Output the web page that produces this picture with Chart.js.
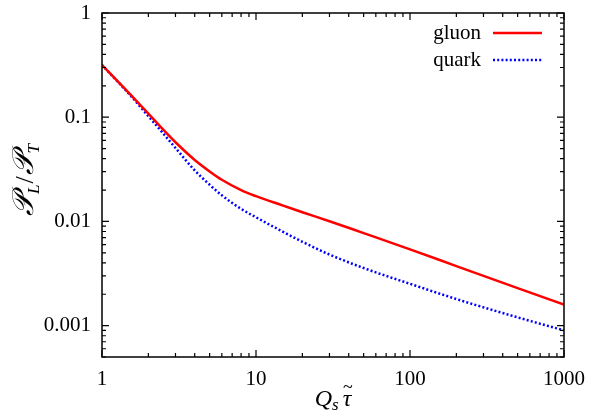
<!DOCTYPE html>
<html><head><meta charset="utf-8">
<script src="https://cdn.jsdelivr.net/npm/chart.js@4"></script>
<style>html,body{margin:0;padding:0;background:#fff}#wrap{width:592px;height:419px;position:relative}</style>
</head><body><div id="wrap"><canvas id="c"></canvas></div>
<script>
const xValues = [1, 1.5, 2, 2.5, 3, 4, 5, 6, 8, 10, 15, 20, 30, 50, 100, 200, 500, 1000];
const gluon   = [0.317, 0.170, 0.1084, 0.0759, 0.0575, 0.0389, 0.0302, 0.0251, 0.01995, 0.01746, 0.01419, 0.01225, 0.01005, 0.00773, 0.0054, 0.00373, 0.00229, 0.00159];
const quark   = [0.317, 0.167, 0.1023, 0.0697, 0.0507, 0.0309, 0.0225, 0.0178, 0.0132, 0.01096, 0.00794, 0.00638, 0.00481, 0.00357, 0.00252, 0.0018, 0.0012, 0.0009];
const xTicks = [1, 10, 100, 1000];
const yTicks = [0.001, 0.01, 0.1, 1];
const seriesNames = ['gluon', 'quark'];

const SERIF = '"Liberation Serif","DejaVu Serif",serif';

function drawRich(ctx, parts, cx, cy, rot) {
  ctx.save();
  ctx.translate(cx, cy);
  if (rot) ctx.rotate(rot);
  let total = 0;
  parts.forEach(p => { ctx.font = p.font; p.cw = ctx.measureText(p.t).width; p.w = p.cw + (p.gap || 0); total += p.w; });
  let x = -total / 2;
  ctx.textBaseline = 'alphabetic';
  ctx.textAlign = 'left';
  ctx.fillStyle = '#000';
  parts.forEach(p => {
    ctx.font = p.font;
    ctx.fillText(p.t, x, p.dy || 0);
    if (p.over) {
      ctx.font = p.overFont || p.font;
      ctx.textAlign = 'center';
      ctx.fillText(p.over, x + p.cw / 2 + (p.overDx || 0), p.overDy || 0);
      ctx.textAlign = 'left';
    }
    x += p.w;
  });
  ctx.restore();
}

const decor = {
  id: 'decor',
  afterDatasetsDraw(chart) {
    const ctx = chart.ctx, a = chart.chartArea, xs = chart.scales.x, ys = chart.scales.y;
    ctx.save();
    ctx.strokeStyle = '#000';
    ctx.lineWidth = 1.2;
    const major = 7, minor = 4;
    for (let d = 1; d <= 1000; d *= 10) {
      for (let m = 1; m <= 9; m++) {
        const v = d * m;
        if (v > 1000) break;
        const px = xs.getPixelForValue(v);
        const len = m === 1 ? major : minor;
        ctx.beginPath();
        ctx.moveTo(px, a.bottom); ctx.lineTo(px, a.bottom - len);
        ctx.moveTo(px, a.top); ctx.lineTo(px, a.top + len);
        ctx.stroke();
      }
    }
    for (let d = 0.0001; d <= 1; d *= 10) {
      for (let m = 1; m <= 9; m++) {
        const v = d * m;
        if (v < 0.0005 - 1e-9 || v > 1 + 1e-9) continue;
        const py = ys.getPixelForValue(v);
        const len = m === 1 ? major : minor;
        ctx.beginPath();
        ctx.moveTo(a.left, py); ctx.lineTo(a.left + len, py);
        ctx.moveTo(a.right, py); ctx.lineTo(a.right - len, py);
        ctx.stroke();
      }
    }
    ctx.lineWidth = 1.5;
    ctx.strokeRect(a.left, a.top, a.right - a.left, a.bottom - a.top);
    // legend
    const ds = chart.data.datasets;
    ctx.font = '21px ' + SERIF;
    ctx.textAlign = 'right';
    ctx.textBaseline = 'middle';
    ds.forEach((d, i) => {
      const y = 33 + i * 27;
      ctx.fillStyle = '#000';
      ctx.fillText(d.label, 481, y);
      ctx.beginPath();
      ctx.strokeStyle = d.borderColor;
      ctx.lineWidth = d.borderWidth;
      ctx.setLineDash(d.borderDash || []);
      ctx.moveTo(493, y); ctx.lineTo(542, y);
      ctx.stroke();
      ctx.setLineDash([]);
    });
    // axis titles
    const its = 'italic 17px ' + SERIF, rm = '26px ' + SERIF, sp = 'italic 30px ' + SERIF;
    drawRich(ctx, [
      {t: '𝒫', font: sp},
      {t: 'L', font: its, dy: 6, gap: 1},
      {t: '/', font: rm, gap: 1},
      {t: '𝒫', font: sp},
      {t: 'T', font: its, dy: 6}
    ], 33, 180, -Math.PI / 2);
    drawRich(ctx, [
      {t: 'Q', font: 'italic 24px ' + SERIF},
      {t: 's', font: 'italic 17px ' + SERIF, dy: 4, gap: 4},
      {t: 'τ', font: 'italic 24px ' + SERIF, over: '~', overFont: '18px ' + SERIF, overDy: -13, overDx: 1}
    ], 333, 406, 0);
    ctx.restore();
  }
};

function zeroPad(s) { s.paddingLeft = 0; s.paddingRight = 0; s.paddingTop = 0; s.paddingBottom = 0; }

const tickFont = {family: SERIF, size: 21};
new Chart(document.getElementById('c'), {
  type: 'line',
  data: {
    datasets: [
      {label: seriesNames[0], data: xValues.map((x, i) => ({x, y: gluon[i]})),
       borderColor: '#ff0000', borderWidth: 2.5, pointRadius: 0, cubicInterpolationMode: 'monotone', fill: false},
      {label: seriesNames[1], data: xValues.map((x, i) => ({x, y: quark[i]})),
       borderColor: '#0000ff', borderWidth: 2.5, borderDash: [2, 2.2], pointRadius: 0, cubicInterpolationMode: 'monotone', fill: false}
    ]
  },
  options: {
    responsive: true, maintainAspectRatio: false, animation: false,
    layout: {padding: {left: 0, right: 28, top: 13, bottom: 0}},
    plugins: {legend: {display: false}, tooltip: {enabled: false}},
    scales: {
      x: {
        type: 'logarithmic', min: 1, max: 1000,
        grid: {display: false, drawTicks: false}, border: {display: false},
        afterBuildTicks: s => { s.ticks = xTicks.map(v => ({value: v})); },
        afterFit: s => { s.height = 62; zeroPad(s); },
        ticks: {font: tickFont, color: '#000', padding: 10, maxRotation: 0, autoSkip: false,
                callback: v => String(v)}
      },
      y: {
        type: 'logarithmic', min: 0.0005, max: 1,
        grid: {display: false, drawTicks: false}, border: {display: false},
        afterBuildTicks: s => { s.ticks = yTicks.map(v => ({value: v})); },
        afterFit: s => { s.width = 102; zeroPad(s); },
        ticks: {font: tickFont, color: '#000', padding: 11, autoSkip: false,
                callback: v => String(v)}
      }
    }
  },
  plugins: [decor]
});
</script>
</body></html>
